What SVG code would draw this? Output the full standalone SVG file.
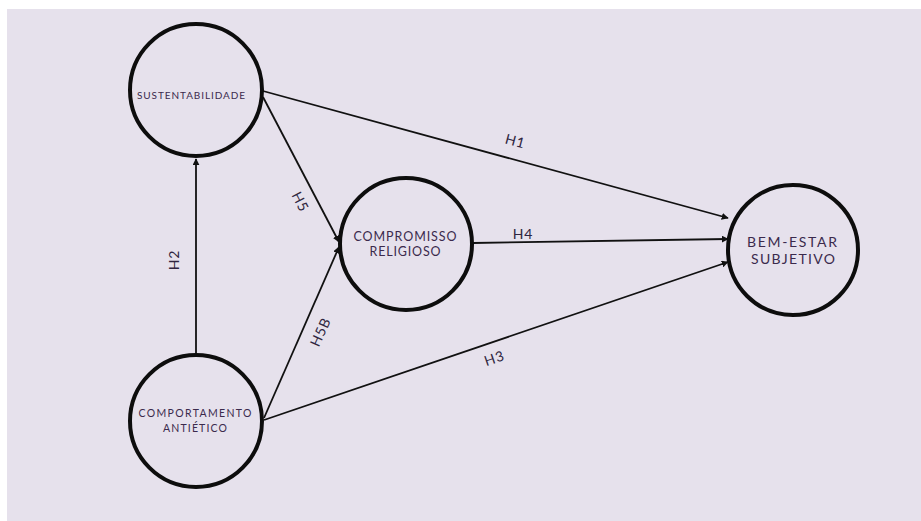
<svg xmlns="http://www.w3.org/2000/svg" width="921" height="521" viewBox="0 0 921 521">
<defs>
<marker id="arr" viewBox="0 0 10 10" refX="9" refY="5" markerWidth="7" markerHeight="7" markerUnits="userSpaceOnUse" orient="auto">
<path d="M0,0 L10,5 L0,10 z" fill="#111"/>
</marker>
<style>
.node{fill:none;stroke:#0d0d0d;stroke-width:4}
.t{font-family:Lato,"Open Sans",sans-serif;fill:#3b2a4c;text-anchor:middle}
.lbl{font-family:Lato,"Open Sans",sans-serif;fill:#2f2540;font-size:14px;text-anchor:middle;letter-spacing:0.8px}
.e{stroke:#111;stroke-width:1.8;fill:none;marker-end:url(#arr)}
</style>
</defs>
<rect x="0" y="0" width="921" height="521" fill="#ffffff"/>
<rect x="7" y="9" width="914" height="512" fill="#e6e1ec"/>
<g id="connectors">
<line class="e" x1="263" y1="91" x2="728" y2="218"/>
<line class="e" x1="473" y1="243" x2="728" y2="239"/>
<line class="e" x1="264" y1="420" x2="728" y2="262"/>
<line class="e" x1="263" y1="97" x2="339" y2="242"/>
<line class="e" x1="264" y1="418" x2="339" y2="247"/>
<line class="e" x1="196" y1="354" x2="196" y2="159"/>
<text class="lbl" transform="translate(514,146) rotate(15)">H1</text>
<text class="lbl" x="523" y="239">H4</text>
<text class="lbl" transform="translate(496,363) rotate(-18.8)">H3</text>
<text class="lbl" transform="translate(296,204) rotate(63)">H5</text>
<text class="lbl" transform="translate(179,260) rotate(-90)">H2</text>
<text class="lbl" transform="translate(325,334) rotate(-66)">H5B</text>
</g>
<g id="sustentabilidade">
<circle class="node" cx="196" cy="90" r="66"/>
<text class="t" x="191" y="99" font-size="10" textLength="108" lengthAdjust="spacing">SUSTENTABILIDADE</text>
</g>
<g id="comportamento">
<circle class="node" cx="196" cy="421" r="66"/>
<text class="t" x="195" y="417" font-size="10.5" textLength="113" lengthAdjust="spacing">COMPORTAMENTO</text>
<text class="t" x="195" y="432" font-size="10.5" textLength="64" lengthAdjust="spacing">ANTIÉTICO</text>
</g>
<g id="compromisso">
<circle class="node" cx="406" cy="244" r="66"/>
<text class="t" x="405" y="241" font-size="12.5" textLength="103" lengthAdjust="spacing">COMPROMISSO</text>
<text class="t" x="405" y="256" font-size="12.5" textLength="71" lengthAdjust="spacing">RELIGIOSO</text>
</g>
<g id="bemestar">
<circle class="node" cx="793" cy="250" r="65"/>
<text class="t" x="792" y="247" font-size="14" textLength="90" lengthAdjust="spacing">BEM-ESTAR</text>
<text class="t" x="793" y="264" font-size="14" textLength="84" lengthAdjust="spacing">SUBJETIVO</text>
</g>
</svg>
